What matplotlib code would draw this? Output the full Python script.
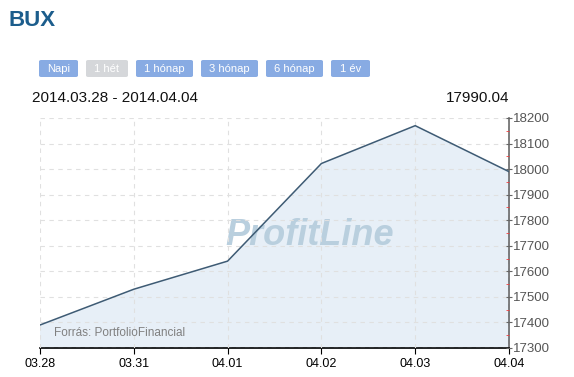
import matplotlib.pyplot as plt
from matplotlib.patches import FancyBboxPatch
from matplotlib.ticker import MultipleLocator
import numpy as np

plt.rcParams['font.family'] = ['Liberation Sans', 'DejaVu Sans']

# data
dates = ['03.28', '03.31', '04.01', '04.02', '04.03', '04.04']
bux = [17390, 17530, 17640, 18022, 18170, 17990.04]
buttons = ['Napi', '1 hét', '1 hónap', '3 hónap', '6 hónap', '1 év']
button_active = [True, False, True, True, True, True]
range_label = '2014.03.28 - 2014.04.04'
last_value = '17990.04'

W, H = 574, 377
fig = plt.figure(figsize=(W / 100, H / 100), dpi=100)
fig.patch.set_facecolor('white')

def fx(px):
    return px / W

def fy(py):
    return 1 - py / H

ax = fig.add_axes([fx(40), fy(348), fx(509) - fx(40), fy(118) - fy(348)])
x = np.arange(len(dates))
ax.fill_between(x, bux, 17300, color='#e7eff7', zorder=1)
ax.plot(x, bux, color='#3e5b74', linewidth=1.1, zorder=3)

ax.set_xlim(0, len(dates) - 1)
ax.set_ylim(17300, 18200)
ax.set_xticks(x)
ax.set_xticklabels(dates)
ax.yaxis.set_major_locator(MultipleLocator(100))
ax.yaxis.set_minor_locator(MultipleLocator(50))
ax.yaxis.tick_right()
ax.grid(True, which='major', color='#e0e0e0', linestyle=(0, (4, 4)), linewidth=0.8)
ax.set_axisbelow(False)

for s in ['top', 'left']:
    ax.spines[s].set_visible(False)
ax.spines['bottom'].set_color('black')
ax.spines['bottom'].set_linewidth(1.2)
ax.spines['right'].set_color('#666666')
ax.spines['right'].set_linewidth(1.2)
ax.tick_params(axis='x', colors='black', labelsize=9, length=4, direction='out', pad=3)
ax.tick_params(axis='y', which='major', colors='#666666', labelcolor='#555555',
               labelsize=9.5, length=4, direction='inout', pad=1)
ax.tick_params(axis='y', which='minor', colors='#f04040', length=2.5, width=0.6, direction='in')

# watermark and source
ax.text(0.576, 0.49, 'ProfitLine', transform=ax.transAxes, ha='center', va='center',
        fontsize=26, fontweight='bold', style='italic', color='#b9cfde', zorder=2)
ax.text(0.03, 0.065, 'Forrás: PortfolioFinancial', transform=ax.transAxes, ha='left',
        va='center', fontsize=8.5, color='#808080', zorder=4)

# header
fig.text(fx(9), fy(20), 'BUX', fontsize=16, fontweight='bold', color='#1c5d8c',
         ha='left', va='center')

btn_x = [(39, 78), (86, 128), (136, 193), (201, 258), (266, 323), (331, 370)]
for label, active, (x0, x1) in zip(buttons, button_active, btn_x):
    face = '#88abe3' if active else '#d5d7da'
    box = FancyBboxPatch((fx(x0), fy(77)), fx(x1) - fx(x0), fy(60) - fy(77),
                         boxstyle='round,pad=0,rounding_size=0.004',
                         transform=fig.transFigure, facecolor=face, edgecolor='none')
    fig.patches.append(box)
    fig.text((fx(x0) + fx(x1)) / 2, (fy(60) + fy(77)) / 2, label, color='white',
             fontsize=8, ha='center', va='center')

fig.text(fx(32), fy(98), range_label, fontsize=11, color='#111111', ha='left', va='center')
fig.text(fx(509), fy(98), last_value, fontsize=11, color='#111111', ha='right', va='center')

fig.savefig('out.png', dpi=100)
